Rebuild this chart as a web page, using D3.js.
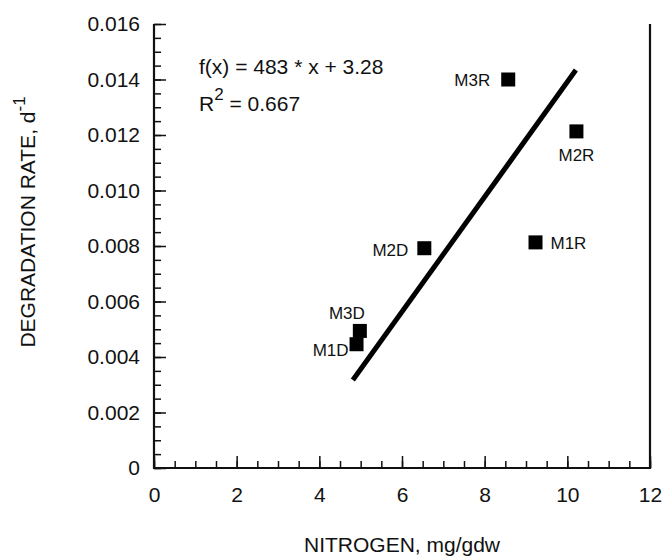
<!DOCTYPE html>
<head>
  <meta charset="utf-8">
  <script src="https://d3js.org/d3.v7.min.js"></script>
  <style>
    body { margin:0; background:#fff; }
    text { font-family: "Liberation Sans", Arial, sans-serif; fill:#111; }
  </style>
</head>
<body>
  <div class="chart"></div>
  <script>
    // samples: nitrogen (mg/gdw) vs degradation rate (1/d)
    const names = ['M3R', 'M2R', 'M1R', 'M2D', 'M3D', 'M1D'];
    const nitrogen = [8.57, 10.22, 9.23, 6.54, 4.98, 4.90];
    const rate = [0.0140, 0.01213, 0.00813, 0.00792, 0.00494, 0.00446];
    // fit printed on the chart: x = 483 * y + 3.28, drawn over this y span
    const fitSlope = 483, fitIntercept = 3.28;
    const fitRateSpan = [0.00317, 0.01434];
    const xTicks = [0, 2, 4, 6, 8, 10, 12];
    const yTicks = [0, 0.002, 0.004, 0.006, 0.008, 0.010, 0.012, 0.014, 0.016];

    const width = 663, height = 560;
    const margin = { top: 24, right: 13, bottom: 92, left: 154 };

    const svg = d3.select('.chart').append('svg')
      .attr('width', width)
      .attr('height', height);

    const x = d3.scaleLinear().domain([0, 12]).range([margin.left, width - margin.right]);
    const y = d3.scaleLinear().domain([0, 0.016]).range([height - margin.bottom, margin.top]);

    // minor ticks (inward)
    svg.append('g')
      .attr('transform', `translate(0,${y(0)})`)
      .call(d3.axisBottom(x).tickValues(d3.range(0, 12.01, 0.5)).tickSize(-7).tickFormat(''))
      .call(g => g.select('.domain').remove());
    svg.append('g')
      .attr('transform', `translate(${x(0)},0)`)
      .call(d3.axisLeft(y).tickValues(d3.range(0, 0.01601, 0.0005)).tickSize(-7).tickFormat(''))
      .call(g => g.select('.domain').remove());

    // major ticks + labels
    const xAxis = svg.append('g')
      .attr('transform', `translate(0,${y(0)})`)
      .call(d3.axisBottom(x).tickValues(xTicks).tickSizeInner(-12).tickSizeOuter(0).tickPadding(19));
    const yAxis = svg.append('g')
      .attr('transform', `translate(${x(0)},0)`)
      .call(d3.axisLeft(y).tickValues(yTicks).tickSizeInner(-12).tickSizeOuter(0).tickPadding(14)
        .tickFormat(d => d === 0 ? '0' : d3.format('.3f')(d)));

    [xAxis, yAxis].forEach(g => {
      g.selectAll('text').style('font-size', '21px').attr('fill', '#111');
      g.selectAll('.domain').remove();
    });
    svg.selectAll('.tick line').attr('stroke', '#111').attr('stroke-width', 1.5);

    // frame: left, bottom, right
    svg.append('path')
      .attr('d', `M${x(0)},${y(0.016)}V${y(0)}H${x(12)}V${y(0.016)}`)
      .attr('fill', 'none')
      .attr('stroke', '#111')
      .attr('stroke-width', 2.2);

    // fit line
    svg.append('line')
      .attr('x1', x(fitSlope * fitRateSpan[0] + fitIntercept))
      .attr('y1', y(fitRateSpan[0]))
      .attr('x2', x(fitSlope * fitRateSpan[1] + fitIntercept))
      .attr('y2', y(fitRateSpan[1]))
      .attr('stroke', '#000')
      .attr('stroke-width', 5);

    // points
    const pts = names.map((n, i) => ({ name: n, n: nitrogen[i], r: rate[i] }));
    const s = 14;
    svg.selectAll('.pt').data(pts).enter().append('rect')
      .attr('class', 'pt')
      .attr('x', d => x(d.n) - s / 2)
      .attr('y', d => y(d.r) - s / 2)
      .attr('width', s).attr('height', s)
      .attr('fill', '#000');

    const labelPos = {
      M3R: { dx: -18, dy: 6, anchor: 'end' },
      M2R: { dx: 0, dy: 30, anchor: 'middle' },
      M1R: { dx: 15, dy: 7, anchor: 'start' },
      M2D: { dx: -16, dy: 8, anchor: 'end' },
      M3D: { dx: -13, dy: -12, anchor: 'middle' },
      M1D: { dx: -8, dy: 12, anchor: 'end' }
    };
    svg.selectAll('.lbl').data(pts).enter().append('text')
      .attr('class', 'lbl')
      .attr('x', d => x(d.n) + labelPos[d.name].dx)
      .attr('y', d => y(d.r) + labelPos[d.name].dy)
      .attr('text-anchor', d => labelPos[d.name].anchor)
      .style('font-size', '17px')
      .text(d => d.name);

    // fit annotation
    svg.append('text')
      .attr('x', 199).attr('y', 74)
      .style('font-size', '21px')
      .text('f(x) = 483 * x + 3.28');
    const r2 = svg.append('text')
      .attr('x', 199).attr('y', 111)
      .style('font-size', '21px');
    r2.append('tspan').text('R');
    r2.append('tspan').attr('dy', -11).style('font-size', '17px').text('2');
    r2.append('tspan').attr('dy', 11).text(' = 0.667');

    // axis titles
    svg.append('text')
      .attr('x', x(6)).attr('y', 552)
      .attr('text-anchor', 'middle')
      .style('font-size', '21px')
      .text('NITROGEN, mg/gdw');

    const yt = svg.append('text')
      .attr('transform', 'translate(35,222) rotate(-90)')
      .attr('text-anchor', 'middle')
      .style('font-size', '21px');
    yt.append('tspan').text('DEGRADATION RATE, d');
    yt.append('tspan').attr('dy', -10).style('font-size', '17px').text('-1');
  </script>
</body>
</html>
